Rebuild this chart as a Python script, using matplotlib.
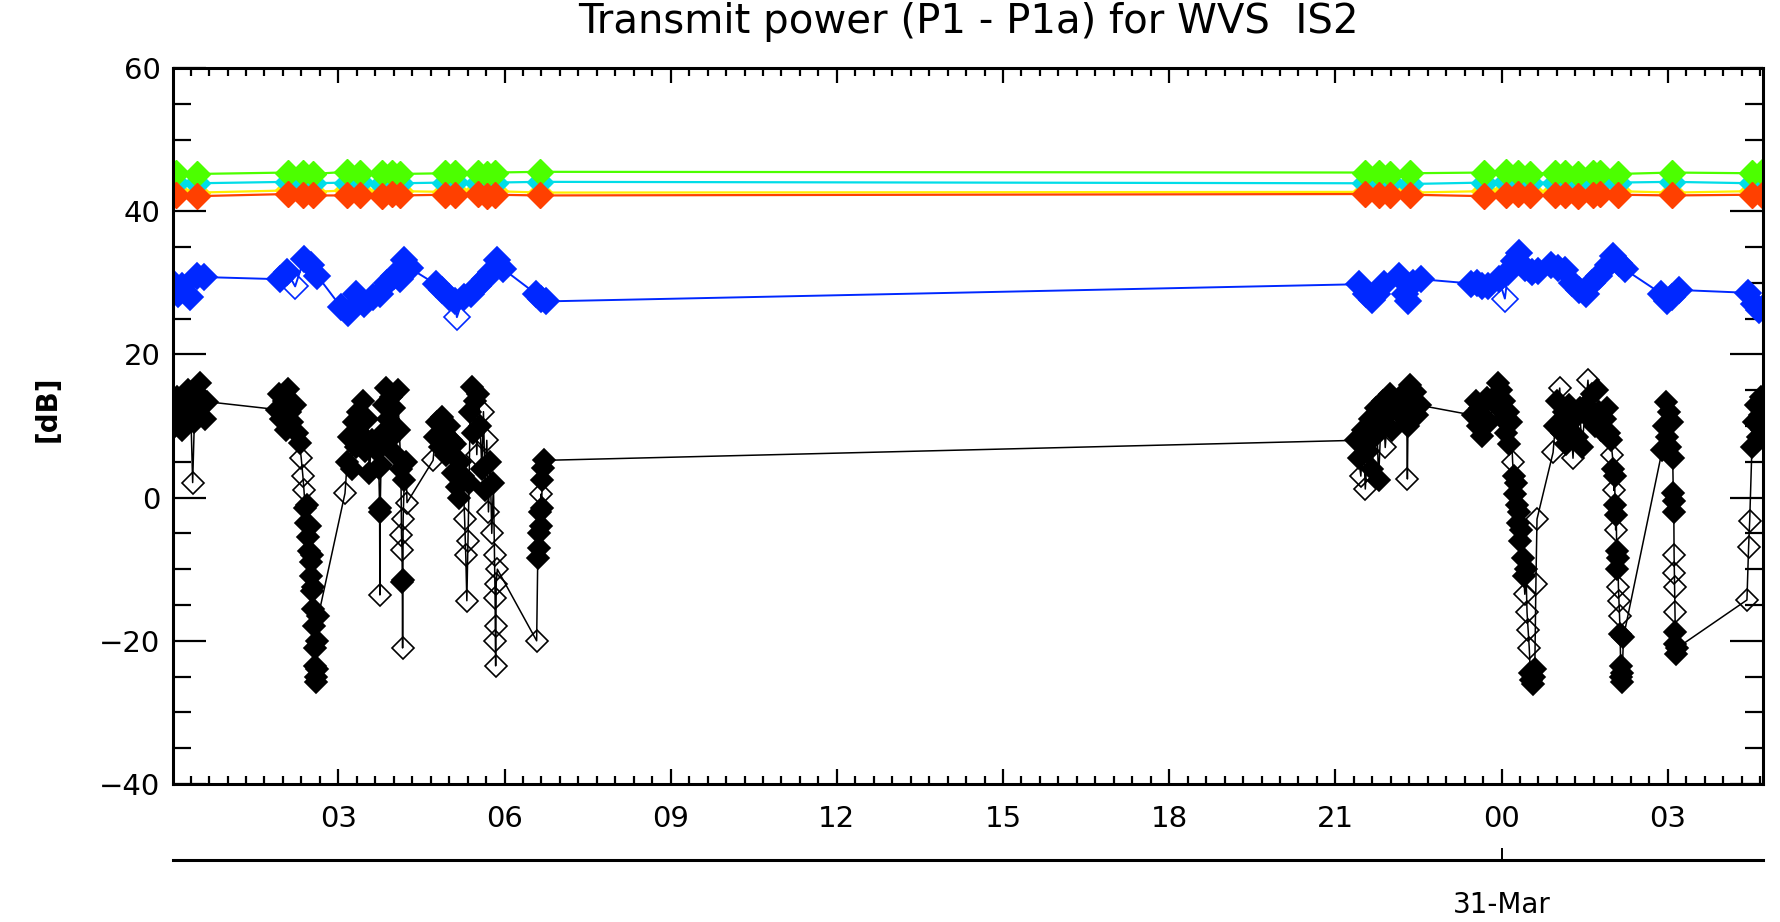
import numpy as np
import matplotlib
matplotlib.use("Agg")
import matplotlib.pyplot as plt
from matplotlib.ticker import MultipleLocator, FuncFormatter


# =====================================================
# DATA  (time in hours since 30-Mar 00:00, power in dB)
# =====================================================

title = "Transmit power (P1 - P1a) for WVS  IS2"
day_tick = 24
day_label = "31-Mar"

t_black = [
    0.02, 0.05, 0.08, 0.11, 0.14, 0.17, 0.20, 0.24, 0.28, 0.31, 0.34, 0.37, 0.40, 0.43, 0.47, 0.51, 0.55, 0.59, 0.62,
    1.89, 1.93, 1.97, 2.01, 2.05, 2.09, 2.13, 2.17, 2.21, 2.25,
    2.30, 2.33, 2.36, 2.38, 2.40, 2.42, 2.44, 2.46, 2.47, 2.49, 2.50, 2.51, 2.52, 2.53, 2.54, 2.55, 2.56, 2.57, 2.58, 2.59, 2.60, 2.61, 2.62, 2.64,
    3.12, 3.16, 3.20, 3.24, 3.28, 3.32, 3.36, 3.40, 3.44, 3.48, 3.52, 3.56, 3.60,
    3.70, 3.73, 3.745, 3.75, 3.755, 3.77,
    3.80, 3.83, 3.86, 3.89, 3.92, 3.95, 3.98, 4.01, 4.04, 4.07, 4.10, 4.13, 4.14, 4.15, 4.155, 4.16, 4.165, 4.17, 4.19, 4.22, 4.24,
    4.71, 4.75, 4.79, 4.83, 4.87, 4.91, 4.95, 4.99, 5.03, 5.07, 5.11, 5.14, 5.17, 5.20, 5.25, 5.28, 5.30, 5.32, 5.34, 5.36,
    5.38, 5.41, 5.44, 5.47, 5.50, 5.53, 5.56, 5.59, 5.62, 5.65, 5.68, 5.71, 5.74, 5.77, 5.80, 5.82, 5.83, 5.835, 5.84, 5.845, 5.85, 5.87,
    6.58, 6.60, 6.62, 6.63, 6.64, 6.65, 6.66, 6.67, 6.68, 6.69, 6.71,
    21.38, 21.42, 21.46, 21.50, 21.54, 21.58, 21.62, 21.66, 21.70, 21.74, 21.78, 21.82, 21.86, 21.90, 21.94, 21.98, 22.02, 22.06,
    22.18, 22.22, 22.26, 22.29, 22.30, 22.31, 22.35, 22.39, 22.43, 22.47, 22.52,
    23.49, 23.53, 23.57, 23.61, 23.65, 23.69, 23.73, 23.77,
    23.90, 23.93, 23.96, 23.99, 24.02, 24.05, 24.08, 24.11, 24.14, 24.17, 24.20, 24.22, 24.24, 24.26, 24.28, 24.30, 24.32,
    24.34, 24.36, 24.38, 24.40, 24.42, 24.44, 24.46, 24.48, 24.50, 24.52, 24.54, 24.56, 24.58, 24.60, 24.62, 24.64,
    24.93, 24.97, 25.01, 25.05, 25.09, 25.13, 25.17, 25.21, 25.25, 25.29, 25.33, 25.37, 25.41, 25.45,
    25.52, 25.56, 25.60, 25.64, 25.68, 25.72, 25.76, 25.80,
    25.86, 25.90, 25.94, 25.97, 26.00, 26.02, 26.03, 26.04, 26.05, 26.06, 26.07, 26.08, 26.09, 26.10, 26.11, 26.12,
    26.13, 26.14, 26.15, 26.16, 26.17, 26.18, 26.20,
    26.90, 26.93, 26.96, 26.99, 27.02, 27.05, 27.07, 27.09, 27.10, 27.105, 27.11, 27.115, 27.12, 27.125, 27.13, 27.135, 27.14, 27.15, 27.17,
    28.43, 28.46, 28.48, 28.52, 28.56, 28.60, 28.63, 28.66, 28.69, 28.71,
]
v_black = [
    13.0, 10.0, 14.0, 11.0, 12.5, 9.5, 13.5, 11.0, 15.0, 12.0, 10.8, 2.1, 10.5, 14.8, 12.5, 16.0, 13.0, 11.0, 13.4,
    12.3, 14.5, 11.0, 13.5, 9.5, 15.2, 12.0, 10.5, 13.0, 9.0,
    7.6, 5.5, 3.0, 1.0, -1.5, -3.5, -1.0, -5.5, -7.5, -4.0, -9.0, -11.0, -8.0, -13.0, -15.5, -12.5, -18.0, -21.0, -23.5, -25.0, -25.8, -24.0, -20.0, -16.5,
    0.6, 5.0, 8.5, 4.0, 10.5, 7.0, 12.0, 9.0, 13.5, 6.5, 11.0, 3.5, 8.0,
    6.5, 4.2, -1.5, -13.6, -2.0, 4.5,
    9.0, 13.0, 15.3, 11.0, 8.0, 14.0, 10.0, 12.5, 6.0, 15.0, 9.5, 4.0, -5.2, -7.3, -11.8, -21.0, -11.5, -3.0, 2.5, 5.0, -0.7,
    5.2, 8.5, 10.5, 7.0, 11.3, 9.0, 6.0, 10.0, 8.0, 3.5, 7.5, 1.5, 0.0, 5.0, 3.0, -3.0, -8.0, -14.4, -6.0, 2.0,
    12.0, 15.5, 9.0, 13.5, 6.0, 14.5, 10.0, 4.0, 12.0, 1.0, 8.0, -2.0, 5.0, -5.0, 2.0, -8.0, -14.0, -20.0, -23.5, -18.0, -12.0, -10.0,
    -20.0, -8.5, -5.0, -7.0, -2.0, -4.0, 0.5, -1.5, 2.5, 4.2, 5.2,
    8.0, 5.5, 3.0, 9.5, 1.2, 6.5, 11.0, 4.0, 8.5, 12.5, 2.5, 10.0, 13.5, 7.0, 11.5, 14.5, 9.5, 12.5,
    12.0, 14.5, 11.0, 10.5, 2.6, 10.0, 15.7, 13.0, 14.8, 11.5, 12.9,
    11.5, 13.5, 10.0, 12.5, 8.6, 11.0, 13.9, 10.5,
    14.0, 16.0, 12.5, 15.0, 11.0, 13.5, 9.0, 12.0, 7.5, 10.5, 5.0, 3.0, 0.5, 2.0, -1.0, -3.5, -2.0,
    -6.0, -4.5, -8.5, -11.0, -13.5, -10.0, -16.0, -18.5, -21.0, -24.5, -25.5, -26.0, -25.0, -24.0, -12.0, -3.0,
    6.3, 10.0, 13.5, 15.3, 9.0, 12.0, 7.5, 13.0, 10.5, 5.5, 11.5, 8.5, 12.5, 7.0,
    13.0, 16.4, 11.0, 14.5, 10.0, 15.0, 12.0, 9.5,
    11.0, 12.5, 9.0, 8.0, 6.0, 4.0, 1.0, 3.0, -1.0, -4.5, -2.5, -7.5, -10.0, -8.5, -12.5, -14.5,
    -16.5, -19.0, -23.5, -25.0, -25.8, -24.5, -19.5,
    6.6, 10.0, 13.4, 8.5, 12.0, 7.0, 10.5, 5.5, 0.7, -0.5, -2.0, -8.0, -10.6, -12.5, -16.0, -18.8, -20.4, -21.8, -21.0,
    -14.3, -6.9, -3.2, 7.0, 10.5, 13.0, 8.5, 11.5, 14.0, 9.5,
]

t_blue = [
    0.02, 0.10, 0.18, 0.32, 0.45, 0.58, 1.95, 2.08, 2.22, 2.38, 2.50, 2.62,
    3.05, 3.18, 3.32, 3.46, 3.62, 3.75, 3.88, 4.00, 4.12, 4.18, 4.30,
    4.76, 4.88, 5.00, 5.10, 5.14, 5.26, 5.40, 5.52, 5.64, 5.76, 5.86, 5.98,
    6.56, 6.66, 6.74,
    21.42, 21.55, 21.66, 21.76, 21.88, 22.15, 22.25, 22.32, 22.40, 22.55,
    23.45, 23.55, 23.65, 23.75, 23.95, 24.06, 24.12, 24.22, 24.32, 24.42, 24.55, 24.65,
    24.90, 25.02, 25.14, 25.28, 25.40, 25.52, 25.64, 25.76,
    25.92, 26.02, 26.12, 26.22, 26.88, 26.98, 27.08, 27.20,
    28.45, 28.55, 28.65, 28.72,
]
v_blue = [
    30.0, 28.5, 29.5, 28.0, 31.0, 30.8, 30.5, 31.5, 29.5, 33.3, 32.5, 31.0,
    26.6, 25.8, 28.5, 27.0, 28.0, 28.5, 30.0, 31.0, 30.5, 33.2, 32.0,
    29.8, 29.0, 28.0, 27.5, 25.2, 28.0, 28.5, 29.5, 30.5, 31.5, 33.2, 31.9,
    28.5, 27.8, 27.4,
    29.8, 28.5, 27.6, 28.5, 29.8, 31.0, 28.5, 27.5, 30.0, 30.5,
    29.9, 30.0, 29.5, 29.5, 30.5, 27.8, 31.5, 33.0, 34.2, 32.0, 31.5, 31.6,
    32.5, 32.0, 31.8, 30.0, 29.0, 28.5, 30.0, 31.0,
    32.5, 33.8, 32.8, 31.9, 28.5, 27.5, 28.0, 29.0,
    28.6, 27.0, 26.2, 26.5,
]

t_lvl = [
    0.07, 0.45, 2.09, 2.36, 2.54, 3.15, 3.39, 3.79, 3.97, 4.11, 4.92, 5.10, 5.52, 5.68, 5.83, 6.64,
    21.54, 21.78, 21.99, 22.35, 23.69, 24.08, 24.30, 24.52, 24.97, 25.15, 25.38, 25.65, 25.78,
    26.10, 27.08, 28.52, 28.70,
]
v_green = [
    45.3, 45.2, 45.4, 45.3, 45.2, 45.5, 45.3, 45.4, 45.3, 45.2, 45.3, 45.4, 45.3, 45.2, 45.4, 45.5,
    45.4, 45.3, 45.2, 45.3, 45.4, 45.5, 45.3, 45.2, 45.4, 45.3, 45.2, 45.4, 45.3,
    45.2, 45.4, 45.3, 45.5,
]
v_cyan = [
    44.0, 43.9, 44.1, 44.0, 43.9, 44.0, 44.1, 43.8, 44.0, 43.9, 44.0, 44.1, 44.0, 43.9, 44.0, 44.1,
    43.9, 44.0, 44.1, 43.8, 44.0, 44.1, 43.9, 44.0, 44.0, 43.9, 44.1, 44.0, 43.9,
    44.0, 44.1, 43.9, 44.0,
]
v_yellow = [
    42.8, 42.6, 42.9, 42.8, 42.7, 42.9, 42.8, 42.7, 42.9, 42.8, 42.7, 42.8, 42.9, 42.7, 42.8, 42.6,
    42.7, 42.8, 42.9, 42.6, 42.8, 42.9, 42.7, 42.8, 42.8, 42.7, 42.9, 42.8, 42.7,
    42.8, 42.6, 42.8, 42.7,
]
v_red = [
    42.3, 42.1, 42.4, 42.3, 42.2, 42.2, 42.3, 42.1, 42.4, 42.2, 42.3, 42.2, 42.4, 42.1, 42.3, 42.2,
    42.4, 42.3, 42.2, 42.3, 42.1, 42.2, 42.4, 42.3, 42.2, 42.3, 42.1, 42.2, 42.4,
    42.3, 42.2, 42.3, 42.2,
]


# =====================================================
# FIGURE
# =====================================================

W, H = 1781, 922
fig = plt.figure(figsize=(W / 100, H / 100), dpi=100)
plt.rcParams["font.family"] = ["DejaVu Sans"]

# plot box in pixels: left 173, right 1763, top 68, bottom 784
ax = fig.add_axes([173 / W, 1 - 784 / H, (1763 - 173) / W, (784 - 68) / H])
ax.set_xlim(0.015, 28.72)
ax.set_ylim(-40, 60)


def draw_series(t, v, color, lw, ms, mew, radius=None):
    t = np.asarray(t, float)
    v = np.asarray(v, float)
    ax.plot(t, v, color=color, lw=lw, zorder=2)
    if radius is None:
        filled = np.ones(len(t), bool)
    else:
        # crowded points look solid in the original, lone ones stay open
        xy = ax.transData.transform(np.column_stack([t, v]))
        d = np.hypot(xy[:, None, 0] - xy[None, :, 0], xy[:, None, 1] - xy[None, :, 1])
        filled = ((d < radius).sum(1) - 1) >= 1
    ax.plot(t[filled], v[filled], "D", ms=ms, mfc=color, mec=color, mew=mew, ls="none", zorder=2)
    ax.plot(t[~filled], v[~filled], "D", ms=ms, mfc="none", mec=color, mew=mew, ls="none", zorder=2)


draw_series(t_black, v_black, "black", 1.1, 11.0, 1.2, radius=13)
draw_series(t_blue, v_blue, "#0028ff", 1.4, 13.0, 1.2, radius=16)
draw_series(t_lvl, v_yellow, "#ffee00", 1.6, 13.0, 1.0)
draw_series(t_lvl, v_cyan, "#00dde8", 1.6, 13.0, 1.0)
draw_series(t_lvl, v_green, "#4cff00", 1.6, 13.5, 1.0)
draw_series(t_lvl, v_red, "#ff4000", 1.6, 13.5, 1.0)

# axes and ticks, IDL style: all ticks pointing inwards
for s in ax.spines.values():
    s.set_linewidth(2.2)
ax.xaxis.set_major_locator(MultipleLocator(3))
ax.xaxis.set_minor_locator(MultipleLocator(1 / 3))
ax.yaxis.set_major_locator(MultipleLocator(20))
ax.yaxis.set_minor_locator(MultipleLocator(5))
ax.xaxis.set_major_formatter(FuncFormatter(lambda h, p: "%02d" % (int(round(h)) % 24)))
ax.tick_params(which="both", direction="in", top=True, right=True, width=1.6, labelsize=21)
ax.tick_params(axis="x", which="major", length=11, pad=15)
ax.tick_params(axis="x", which="minor", length=6)
ax.tick_params(axis="y", which="major", length=24, pad=9)
ax.tick_params(axis="y", which="minor", length=13)

# second time axis with the date
ax2 = fig.add_axes([173 / W, 1 - 860 / H, (1763 - 173) / W, 0.0001])
ax2.set_xlim(ax.get_xlim())
ax2.patch.set_visible(False)
for k in ["top", "left", "right"]:
    ax2.spines[k].set_visible(False)
ax2.spines["bottom"].set_linewidth(2.2)
ax2.set_yticks([])
ax2.set_xticks([day_tick])
ax2.set_xticklabels([day_label])
ax2.tick_params(axis="x", direction="in", length=9, width=1.4, pad=22, labelsize=20)

fig.text(968 / W, 1 - 22 / H, title, ha="center", va="center", fontsize=29)
fig.text(48 / W, 1 - 409 / H, "[dB]", rotation=90, ha="center", va="center",
         fontsize=20, fontweight="bold")

fig.savefig("out.png", dpi=100)
plt.close(fig)
